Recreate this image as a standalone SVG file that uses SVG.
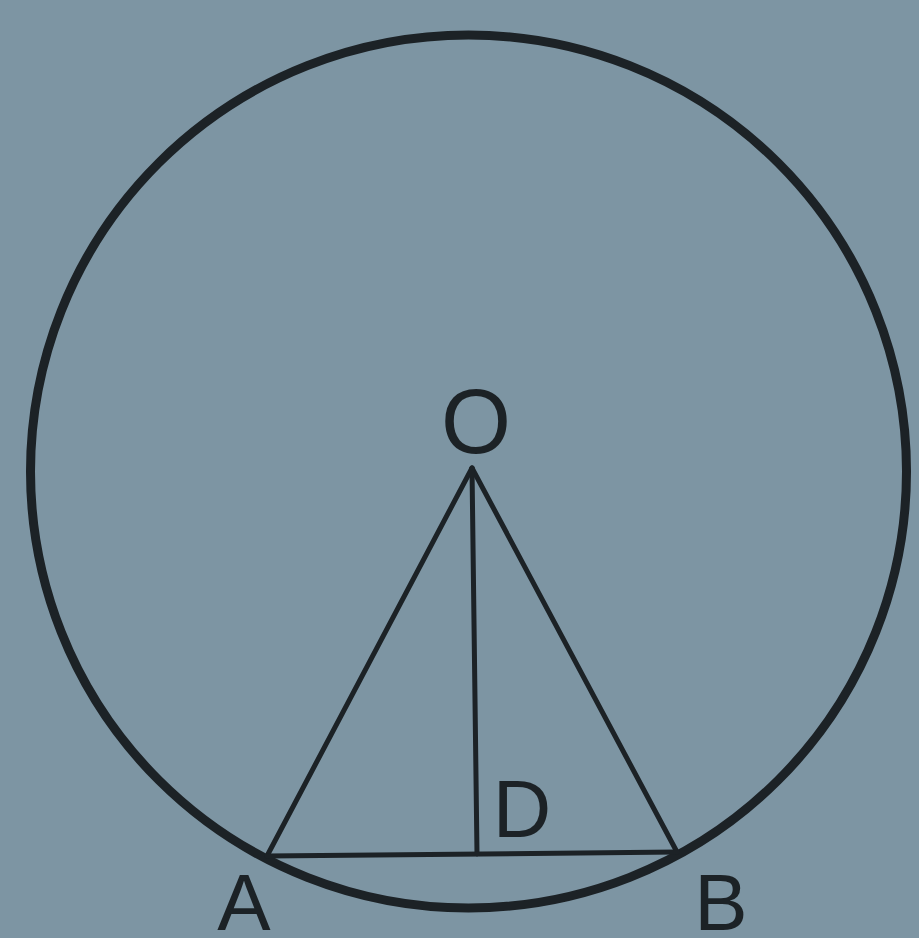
<svg xmlns="http://www.w3.org/2000/svg" width="919" height="938" viewBox="0 0 919 938">
<style>
.bg{fill:#7d95a3}
.ln{stroke:#1c2226;stroke-width:5;fill:none;stroke-linecap:round}
.cir{stroke:#1c2226;stroke-width:9;fill:none}
.lbl{font-family:"Liberation Sans",Arial,sans-serif;fill:#1c2226;text-anchor:middle}
</style>
<rect class="bg" x="0" y="0" width="919" height="938"/>
<g id="circle"><ellipse class="cir" cx="468.5" cy="471.5" rx="438" ry="436.5"/></g>
<g id="connectors">
<line class="ln" x1="472" y1="468" x2="267" y2="856"/>
<line class="ln" x1="472" y1="468" x2="677" y2="852"/>
<line class="ln" x1="472" y1="468" x2="477" y2="854"/>
<line class="ln" x1="267" y1="856" x2="677" y2="852"/>
</g>
<g id="O"><text class="lbl" x="476" y="453" font-size="90">O</text></g>
<g id="D"><text class="lbl" x="522" y="837" font-size="81">D</text></g>
<g id="A"><text class="lbl" x="244" y="930" font-size="80">A</text></g>
<g id="B"><text class="lbl" x="721" y="930" font-size="80">B</text></g>
</svg>
